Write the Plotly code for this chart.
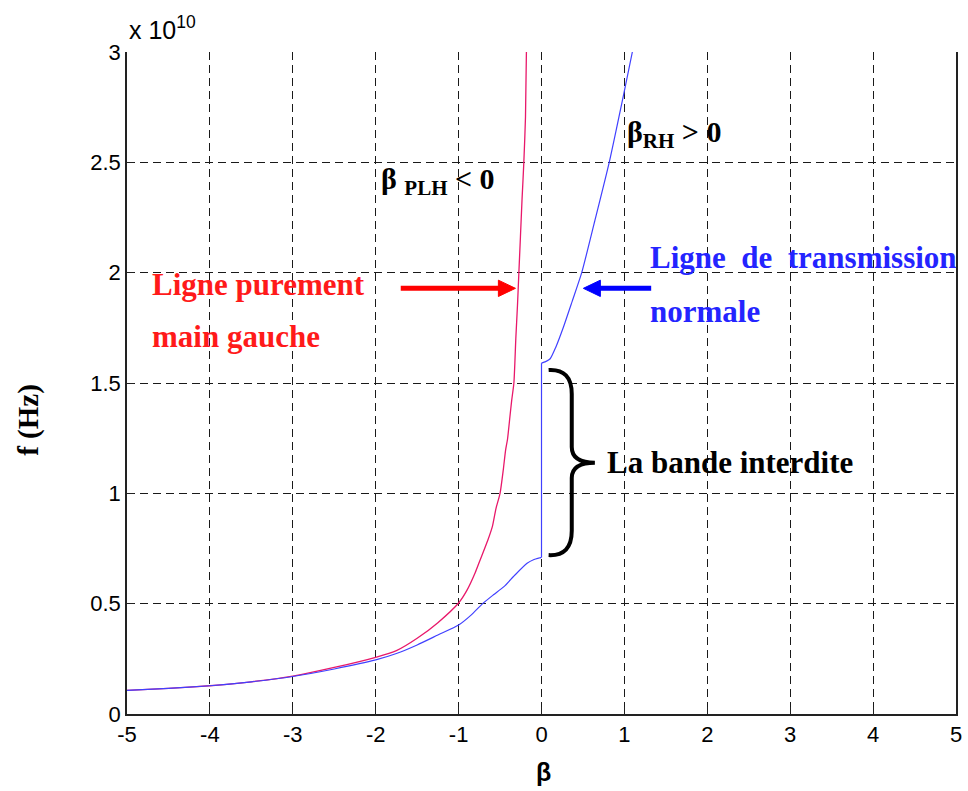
import plotly.graph_objects as go

# Frequency axis in units of 1e10 Hz
f_scale_label = "x 10<sup>10</sup>"

# Purely left-handed line (beta_PLH < 0)
beta_plh = [-5.0, -4.5, -4.0, -3.5, -3.0, -2.5, -2.0, -1.75, -1.5, -1.25, -1.0,
            -0.9, -0.8, -0.74, -0.65, -0.593, -0.55, -0.5, -0.46, -0.433, -0.41,
            -0.381, -0.36, -0.333, -0.31, -0.29, -0.273, -0.254, -0.235, -0.213,
            -0.193, -0.182]
f_plh = [0.107, 0.116, 0.128, 0.146, 0.172, 0.211, 0.257, 0.287, 0.343, 0.414, 0.503,
         0.56, 0.64, 0.698, 0.785, 0.849, 0.93, 1.0, 1.11, 1.196, 1.245,
         1.347, 1.42, 1.5, 1.7, 1.85, 2.0, 2.163, 2.33, 2.5,
         2.707, 3.0]

# Normal transmission line, left branch up to the lower band edge at beta = 0
beta_rh_low = [-5.0, -4.5, -4.0, -3.5, -3.0, -2.5, -2.0, -1.75, -1.5, -1.25, -1.0,
               -0.85, -0.71, -0.58, -0.453, -0.32, -0.174, -0.09, -0.03, 0.0]
f_rh_low = [0.107, 0.116, 0.128, 0.146, 0.170, 0.204, 0.245, 0.274, 0.313, 0.358, 0.403,
            0.448, 0.50, 0.54, 0.577, 0.63, 0.683, 0.70, 0.707, 0.71]

# Right branch from the upper band edge at beta = 0
beta_rh_high = [0.0, 0.05, 0.105, 0.17, 0.266, 0.37, 0.485, 0.645, 0.817, 0.985, 1.096]
f_rh_high = [1.59, 1.597, 1.61, 1.66, 1.755, 1.87, 2.0, 2.238, 2.5, 2.797, 3.0]

x_ticks = [-5, -4, -3, -2, -1, 0, 1, 2, 3, 4, 5]
x_tick_text = ["-5", "-4", "-3", "-2", "-1", "0", "1", "2", "3", "4", "5"]
y_ticks = [0, 0.5, 1, 1.5, 2, 2.5, 3]
y_tick_text = ["0", "0.5", "1", "1.5", "2", "2.5", "3"]

SERIF = "Liberation Serif, Times New Roman, serif"
SANS = "Liberation Sans, Arial, sans-serif"
BLUE = "#4040ff"

fig = go.Figure()
fig.add_trace(go.Scatter(x=beta_plh, y=f_plh, mode="lines", line_shape="spline",
                         line=dict(color="#e8186a", width=1.3, smoothing=0.6),
                         showlegend=False))
fig.add_trace(go.Scatter(x=beta_rh_low, y=f_rh_low, mode="lines", line_shape="spline",
                         line=dict(color=BLUE, width=1.2, smoothing=0.6), showlegend=False))
# stop band jump at beta = 0
fig.add_trace(go.Scatter(x=[beta_rh_low[-1], beta_rh_high[0]],
                         y=[f_rh_low[-1], f_rh_high[0]], mode="lines",
                         line=dict(color=BLUE, width=1.2), showlegend=False))
fig.add_trace(go.Scatter(x=beta_rh_high, y=f_rh_high, mode="lines", line_shape="spline",
                         line=dict(color=BLUE, width=1.2, smoothing=0.6), showlegend=False))

grid = dict(showgrid=True, gridcolor="#1a1a1a", gridwidth=1.3, griddash="8px,5px")

fig.update_xaxes(range=[-5, 5], tickvals=x_ticks, ticktext=x_tick_text,
                 ticks="inside", ticklen=7, tickcolor="#222", showline=True,
                 linecolor="#222", linewidth=1.5, zeroline=False,
                 tickfont=dict(family=SANS, size=22, color="black"), **grid)
fig.update_yaxes(range=[0, 3], tickvals=y_ticks, ticktext=y_tick_text,
                 ticks="inside", ticklen=7, tickcolor="#222", showline=True,
                 linecolor="#222", linewidth=1.5, mirror=True, zeroline=False,
                 tickfont=dict(family=SANS, size=22, color="black"), **grid)

annotations = [
    dict(text=f_scale_label, xref="paper", yref="paper", x=0, y=1, xanchor="left",
         yanchor="bottom", yshift=6, showarrow=False,
         font=dict(family=SANS, size=25, color="black")),
    dict(text="<b>f (Hz)</b>", xref="paper", yref="paper", x=-0.142, y=0.444,
         textangle=-90, showarrow=False, font=dict(family=SERIF, size=29, color="black")),
    dict(text="<b>β</b>", xref="x", yref="paper", x=0.02, y=-0.112, showarrow=False,
         font=dict(family=SANS, size=25, color="black")),
    dict(text="<b>Ligne purement</b>", x=-4.725, y=1.948, xanchor="left",
         showarrow=False, font=dict(family=SERIF, size=31, color="#ff1a1a")),
    dict(text="<b>main gauche</b>", x=-4.725, y=1.713, xanchor="left",
         showarrow=False, font=dict(family=SERIF, size=31, color="#ff1a1a")),
    dict(text="<b>Ligne\u00a0\u00a0de\u00a0\u00a0transmission</b>", x=1.287, y=2.071,
         xanchor="left", showarrow=False, font=dict(family=SERIF, size=31, color="#2424ff")),
    dict(text="<b>normale</b>", x=1.287, y=1.826, xanchor="left",
         showarrow=False, font=dict(family=SERIF, size=31, color="#2424ff")),
    dict(text="<b>La bande interdite</b>", x=0.76, y=1.142, xanchor="left",
         showarrow=False, font=dict(family=SERIF, size=31, color="black")),
    dict(text="<b>β <sub>PLH</sub> < 0</b>", x=-1.958, y=2.415, xanchor="left",
         showarrow=False, font=dict(family=SERIF, size=30, color="black")),
    dict(text="<b>β<sub>RH</sub> > 0</b>", x=1.012, y=2.628, xanchor="left",
         showarrow=False, font=dict(family=SERIF, size=30, color="black")),
]
fig.update_layout(annotations=annotations)

shapes = [
    # red arrow pointing at the left-handed curve
    dict(type="line", x0=-1.698, y0=1.929, x1=-0.50, y1=1.929,
         line=dict(color="#ff0000", width=5)),
    dict(type="path", path="M -0.52,1.966 L -0.314,1.929 L -0.52,1.892 Z",
         fillcolor="#ff0000", line=dict(color="#ff0000", width=1)),
    # blue arrow pointing at the right-handed curve
    dict(type="line", x0=1.323, y0=1.929, x1=0.69, y1=1.929,
         line=dict(color="#0000ff", width=5)),
    dict(type="path", path="M 0.71,1.966 L 0.505,1.929 L 0.71,1.892 Z",
         fillcolor="#0000ff", line=dict(color="#0000ff", width=1)),
    # curly brace marking the stop band
    dict(type="path",
         path=("M 0.086,1.559 Q 0.365,1.565 0.365,1.45 L 0.365,1.21 "
               "Q 0.365,1.139 0.644,1.139 Q 0.365,1.139 0.365,1.07 "
               "L 0.365,0.83 Q 0.365,0.715 0.086,0.72"),
         line=dict(color="black", width=4)),
]
fig.update_layout(shapes=shapes)

fig.update_layout(width=968, height=791, margin=dict(l=127, r=6, t=52, b=77),
                  paper_bgcolor="white", plot_bgcolor="white")

fig.write_html("out.html")
